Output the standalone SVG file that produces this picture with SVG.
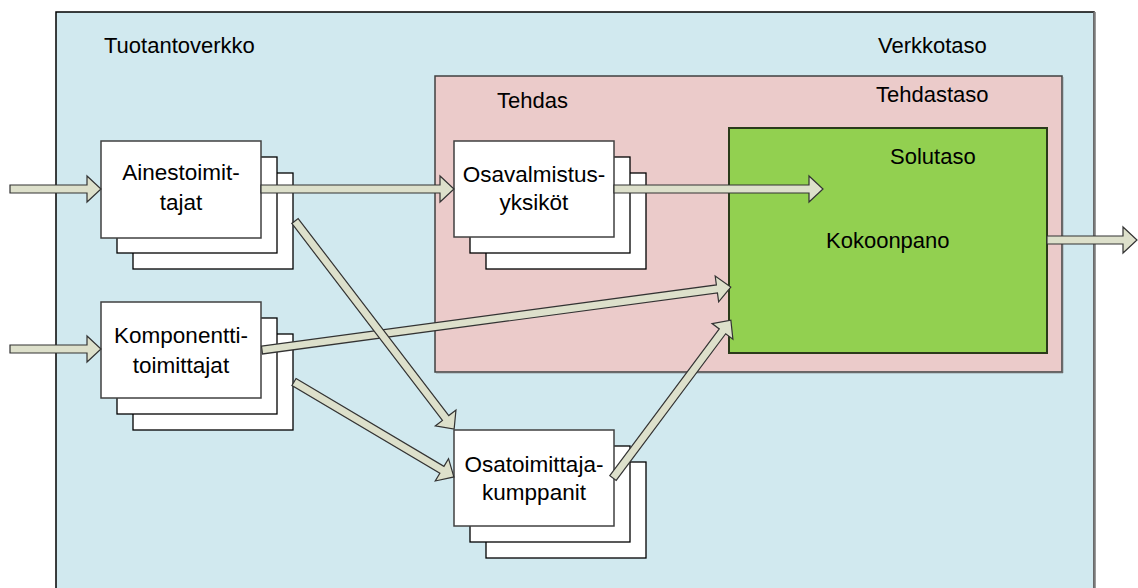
<svg xmlns="http://www.w3.org/2000/svg" width="1138" height="588" viewBox="0 0 1138 588">
  <style>
    .lbl { font-family: "Liberation Sans", Arial, sans-serif; font-size: 22px; fill: #000; }
    .box-text { font-family: "Liberation Sans", Arial, sans-serif; font-size: 22.5px; fill: #000; text-anchor: middle; }
    .card { fill: #fff; stroke: #000; stroke-width: 1.3; }
    .card-front { fill: #fff; stroke: #404040; stroke-width: 1.5; }
    .arrow { fill: #DDE0CB; stroke: #333; stroke-width: 1.2; stroke-linejoin: miter; }
  </style>

  <rect width="1138" height="588" fill="#fff"/>

  <!-- network level -->
  <g id="network">
    <rect x="56" y="12" width="1038" height="590" fill="#D1E9EF" stroke="#000" stroke-width="1.5"/>
    <line x1="1094.5" y1="12" x2="1094.5" y2="588" stroke="#7a7a7a" stroke-width="2.5"/>
    <text class="lbl" x="104" y="53">Tuotantoverkko</text>
    <text class="lbl" x="878" y="53">Verkkotaso</text>
  </g>

  <!-- factory level -->
  <g id="factory">
    <rect x="435" y="76" width="627" height="296" fill="#EBCBCA" stroke="#404040" stroke-width="1.5"/>
    <line x1="1062.5" y1="77" x2="1062.5" y2="373" stroke="#6a6a6a" stroke-width="1.5"/>
    <line x1="436" y1="372.5" x2="1063" y2="372.5" stroke="#6a6a6a" stroke-width="1.5"/>
    <text class="lbl" x="497" y="108">Tehdas</text>
    <text class="lbl" x="876" y="102">Tehdastaso</text>
  </g>

  <!-- cell level -->
  <g id="assembly">
    <rect x="729" y="128" width="318" height="225" fill="#92D050" stroke="#2a3a1a" stroke-width="2"/>
    <text class="lbl" x="890" y="164">Solutaso</text>
    <text class="lbl" x="826" y="248">Kokoonpano</text>
  </g>

  <!-- supplier stacks -->
  <g id="raw-material-suppliers">
    <rect class="card" x="133" y="173" width="160" height="96"/>
    <rect class="card" x="117" y="157" width="160" height="96"/>
    <rect class="card-front" x="101" y="141" width="160" height="97"/>
    <text class="box-text" x="181" y="180">Ainestoimit-</text>
    <text class="box-text" x="181" y="210">tajat</text>
  </g>

  <g id="component-suppliers">
    <rect class="card" x="133" y="334" width="160" height="96"/>
    <rect class="card" x="117" y="318" width="160" height="96"/>
    <rect class="card-front" x="101" y="302" width="160" height="96"/>
    <text class="box-text" x="181" y="343">Komponentti-</text>
    <text class="box-text" x="181" y="373">toimittajat</text>
  </g>

  <g id="part-manufacturing">
    <rect class="card" x="486" y="173" width="160" height="96"/>
    <rect class="card" x="470" y="157" width="160" height="96"/>
    <rect class="card-front" x="454" y="141" width="160" height="96"/>
    <text class="box-text" x="534" y="182">Osavalmistus-</text>
    <text class="box-text" x="534" y="210">yksiköt</text>
  </g>

  <g id="part-suppliers">
    <rect class="card" x="486" y="462" width="160" height="96"/>
    <rect class="card" x="470" y="446" width="160" height="96"/>
    <rect class="card-front" x="454" y="430" width="160" height="96"/>
    <text class="box-text" x="534" y="472">Osatoimittaja-</text>
    <text class="box-text" x="534" y="500">kumppanit</text>
  </g>

  <!-- block arrows: drawn along +x from 0 to length L, then placed with a transform -->
  <g id="connectors">
    <!-- inputs -->
    <path class="arrow" transform="translate(10,189)" d="M0,-4 H77 V-13 L91,0 L77,13 V4 H0 Z"/>
    <path class="arrow" transform="translate(10,349)" d="M0,-4 H77 V-13 L91,0 L77,13 V4 H0 Z"/>
    <!-- raw material -> part manufacturing -->
    <path class="arrow" transform="translate(261,189)" d="M0,-4 H179 V-13 L193,0 L179,13 V4 H0 Z"/>
    <!-- part manufacturing -> assembly -->
    <path class="arrow" transform="translate(614,189)" d="M0,-4 H195 V-13 L209,0 L195,13 V4 H0 Z"/>
    <!-- output -->
    <path class="arrow" transform="translate(1047,240)" d="M0,-4 H76 V-13 L90,0 L76,13 V4 H0 Z"/>
    <!-- component suppliers -> assembly -->
    <path class="arrow" transform="translate(262,350) rotate(-7.65)" d="M0,-4 H459 V-13 L473,0 L459,13 V4 H0 Z"/>
    <!-- raw material -> part suppliers -->
    <path class="arrow" transform="translate(295,221) rotate(52.6)" d="M0,-4 H248 V-13 L262,0 L248,13 V4 H0 Z"/>
    <!-- component suppliers -> part suppliers -->
    <path class="arrow" transform="translate(294,382) rotate(30.7)" d="M0,-4 H172 V-13 L186,0 L172,13 V4 H0 Z"/>
    <!-- part suppliers -> assembly -->
    <path class="arrow" transform="translate(613,478) rotate(-53.25)" d="M0,-4 H183 V-13 L197,0 L183,13 V4 H0 Z"/>
  </g>
</svg>
